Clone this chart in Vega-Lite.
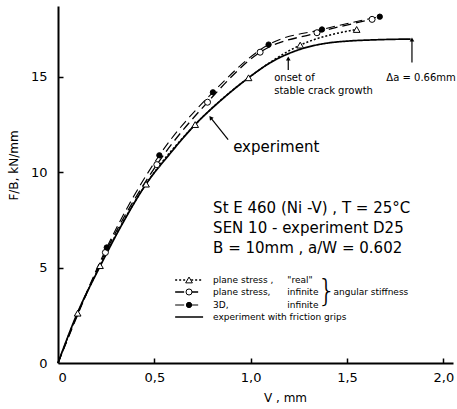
{
  "$schema": "https://vega.github.io/schema/vega-lite/v6.json",
  "width": 395,
  "height": 357,
  "autosize": {"type": "none"},
  "padding": {"left": 58, "top": 6, "right": 4, "bottom": 46},
  "background": "white",
  "config": {
    "view": {"stroke": null},
    "font": "DejaVu Sans",
    "axis": {
      "grid": false,
      "domainColor": "black",
      "domainWidth": 2,
      "tickColor": "black",
      "tickWidth": 1.5,
      "labelColor": "black",
      "labelFont": "DejaVu Sans",
      "labelFontSize": 13,
      "titleColor": "black",
      "titleFont": "DejaVu Sans",
      "titleFontSize": 12,
      "titleFontWeight": "normal"
    }
  },
  "resolve": {"axis": {"x": "independent", "y": "independent"}},
  "datasets": {
    "curves": [
      {"series": "experiment", "v": 0, "f": 0},
      {"series": "experiment", "v": 0.1, "f": 2.6},
      {"series": "experiment", "v": 0.22, "f": 5.1},
      {"series": "experiment", "v": 0.34, "f": 7.4},
      {"series": "experiment", "v": 0.457, "f": 9.37},
      {"series": "experiment", "v": 0.58, "f": 10.95},
      {"series": "experiment", "v": 0.712, "f": 12.49},
      {"series": "experiment", "v": 0.85, "f": 13.8},
      {"series": "experiment", "v": 0.989, "f": 14.94},
      {"series": "experiment", "v": 1.1, "f": 15.72},
      {"series": "experiment", "v": 1.2, "f": 16.22},
      {"series": "experiment", "v": 1.3, "f": 16.56},
      {"series": "experiment", "v": 1.4, "f": 16.76},
      {"series": "experiment", "v": 1.5, "f": 16.86},
      {"series": "experiment", "v": 1.65, "f": 16.93},
      {"series": "experiment", "v": 1.83, "f": 16.97},
      {"series": "real", "v": 0, "f": 0},
      {"series": "real", "v": 0.102, "f": 2.61},
      {"series": "real", "v": 0.218, "f": 5.1},
      {"series": "real", "v": 0.457, "f": 9.37},
      {"series": "real", "v": 0.712, "f": 12.49},
      {"series": "real", "v": 0.989, "f": 14.94},
      {"series": "real", "v": 1.257, "f": 16.65},
      {"series": "real", "v": 1.55, "f": 17.47},
      {"series": "infinite", "v": 0, "f": 0},
      {"series": "infinite", "v": 0.246, "f": 5.79},
      {"series": "infinite", "v": 0.513, "f": 10.39},
      {"series": "infinite", "v": 0.776, "f": 13.66},
      {"series": "infinite", "v": 1.049, "f": 16.28},
      {"series": "infinite", "v": 1.344, "f": 17.3},
      {"series": "infinite", "v": 1.63, "f": 18.0},
      {"series": "3D", "v": 0, "f": 0},
      {"series": "3D", "v": 0.253, "f": 6.05},
      {"series": "3D", "v": 0.526, "f": 10.88},
      {"series": "3D", "v": 0.804, "f": 14.18},
      {"series": "3D", "v": 1.093, "f": 16.68},
      {"series": "3D", "v": 1.37, "f": 17.47},
      {"series": "3D", "v": 1.67, "f": 18.14}
    ],
    "markers": [
      {"series": "real", "v": 0.102, "f": 2.61},
      {"series": "real", "v": 0.218, "f": 5.1},
      {"series": "real", "v": 0.457, "f": 9.37},
      {"series": "real", "v": 0.712, "f": 12.49},
      {"series": "real", "v": 0.989, "f": 14.94},
      {"series": "real", "v": 1.257, "f": 16.65},
      {"series": "real", "v": 1.55, "f": 17.47},
      {"series": "infinite", "v": 0.246, "f": 5.79},
      {"series": "infinite", "v": 0.513, "f": 10.39},
      {"series": "infinite", "v": 0.776, "f": 13.66},
      {"series": "infinite", "v": 1.049, "f": 16.28},
      {"series": "infinite", "v": 1.344, "f": 17.3},
      {"series": "infinite", "v": 1.63, "f": 18.0},
      {"series": "3D", "v": 0.253, "f": 6.05},
      {"series": "3D", "v": 0.526, "f": 10.88},
      {"series": "3D", "v": 0.804, "f": 14.18},
      {"series": "3D", "v": 1.093, "f": 16.68},
      {"series": "3D", "v": 1.37, "f": 17.47},
      {"series": "3D", "v": 1.67, "f": 18.14},
      {"series": "real", "v": 0.68, "f": 4.35},
      {"series": "infinite", "v": 0.68, "f": 3.72},
      {"series": "3D", "v": 0.68, "f": 3.04}
    ],
    "legendlines": [
      {"series": "real", "v": 0.608, "v2": 0.753, "f": 4.35},
      {"series": "infinite", "v": 0.608, "v2": 0.753, "f": 3.72},
      {"series": "3D", "v": 0.608, "v2": 0.753, "f": 3.04},
      {"series": "experiment", "v": 0.608, "v2": 0.753, "f": 2.41}
    ],
    "texts": [
      {"group": "big", "v": 0.805, "f": 8.13, "text": "St E 460 (Ni -V) ,  T = 25°C"},
      {"group": "big", "v": 0.805, "f": 7.08, "text": "SEN 10 - experiment  D25"},
      {"group": "big", "v": 0.805, "f": 6.03, "text": "B = 10mm ,  a/W = 0.602"},
      {"group": "big", "v": 0.909, "f": 11.33, "text": "experiment"},
      {"group": "small", "v": 1.122, "f": 14.95, "text": "onset of"},
      {"group": "small", "v": 1.122, "f": 14.27, "text": "stable crack growth"},
      {"group": "small", "v": 1.704, "f": 14.95, "text": "Δa = 0.66mm"},
      {"group": "legend", "v": 0.805, "f": 4.35, "text": "plane stress ,"},
      {"group": "legend", "v": 0.805, "f": 3.72, "text": "plane stress,"},
      {"group": "legend", "v": 0.805, "f": 3.04, "text": "3D,"},
      {"group": "legend", "v": 0.805, "f": 2.41, "text": "experiment with friction grips"},
      {"group": "legend", "v": 1.19, "f": 4.35, "text": "\"real\""},
      {"group": "legend", "v": 1.19, "f": 3.72, "text": "infinite"},
      {"group": "legend", "v": 1.19, "f": 3.04, "text": "infinite"},
      {"group": "legend", "v": 1.43, "f": 3.72, "text": "angular stiffness"},
      {"group": "brace", "v": 1.345, "f": 3.70, "text": "}"}
    ],
    "arrows": [
      {"v": 1.195, "f": 15.35, "v2": 1.195, "f2": 15.95, "dir": 0},
      {"v": 1.837, "f": 15.74, "v2": 1.837, "f2": 16.95, "dir": 0},
      {"v": 0.883, "f": 11.7, "v2": 0.792, "f2": 12.85, "dir": 322}
    ]
  },
  "layer": [
    {
      "data": {"name": "curves"},
      "mark": {"type": "line", "interpolate": "monotone", "color": "black"},
      "encoding": {
        "x": {"field": "v", "type": "quantitative", "scale": {"domain": [0, 2.05], "nice": false},
          "axis": {"orient": "bottom", "values": [0, 0.5, 1, 1.5, 2], "ticks": false, "labelExpr": "datum.value == 0 ? '0' : replace(format(datum.value, '.1f'), '.', ',')", "title": "V ,  mm", "titleX": 227, "titleY": 34, "titleBaseline": "middle", "titleAnchor": null, "labelPadding": 8}},
        "y": {"field": "f", "type": "quantitative", "scale": {"domain": [0, 18.7], "nice": false},
          "axis": {"orient": "left", "values": [0, 5, 10, 15], "ticks": false, "title": "F/B,  kN/mm", "titleX": -38, "titleY": 159, "labelPadding": 11}},
        "detail": {"field": "series"},
        "strokeDash": {"field": "series", "type": "nominal", "legend": null,
          "scale": {"domain": ["experiment", "real", "infinite", "3D"], "range": [[1, 0], [2, 2], [9, 5], [9, 5]]}},
        "strokeWidth": {"field": "series", "type": "nominal", "legend": null,
          "scale": {"domain": ["experiment", "real", "infinite", "3D"], "range": [1.7, 1.1, 1.3, 1.3]}}
      }
    },
    {
      "data": {"name": "legendlines"},
      "mark": {"type": "rule", "color": "black"},
      "encoding": {
        "x": {"field": "v", "type": "quantitative",
          "axis": {"orient": "bottom", "offset": -5, "domain": false, "labels": false, "title": null, "tickSize": 5, "values": [0.5, 1, 1.5, 2]}},
        "x2": {"field": "v2"},
        "y": {"field": "f", "type": "quantitative",
          "axis": {"orient": "left", "offset": -5, "domain": false, "labels": false, "title": null, "tickSize": 5, "values": [5, 10, 15]}},
        "strokeDash": {"field": "series", "type": "nominal", "legend": null,
          "scale": {"domain": ["experiment", "real", "infinite", "3D"], "range": [[1, 0], [2, 2], [9, 5], [9, 5]]}},
        "strokeWidth": {"field": "series", "type": "nominal", "legend": null,
          "scale": {"domain": ["experiment", "real", "infinite", "3D"], "range": [1.7, 1.1, 1.3, 1.3]}}
      }
    },
    {
      "data": {"name": "markers"},
      "mark": {"type": "point", "filled": true, "stroke": "black", "strokeWidth": 1, "opacity": 1},
      "encoding": {
        "x": {"field": "v", "type": "quantitative", "axis": null},
        "y": {"field": "f", "type": "quantitative", "axis": null},
        "shape": {"field": "series", "type": "nominal", "legend": null,
          "scale": {"domain": ["real", "infinite", "3D"], "range": ["triangle-up", "circle", "circle"]}},
        "fill": {"field": "series", "type": "nominal", "legend": null,
          "scale": {"domain": ["real", "infinite", "3D"], "range": ["white", "white", "black"]}},
        "size": {"field": "series", "type": "nominal", "legend": null,
          "scale": {"domain": ["real", "infinite", "3D"], "range": [45, 28, 30]}}
      }
    },
    {
      "data": {"name": "arrows"},
      "mark": {"type": "rule", "color": "black", "strokeWidth": 1.2},
      "encoding": {
        "x": {"field": "v", "type": "quantitative", "axis": null},
        "y": {"field": "f", "type": "quantitative", "axis": null},
        "x2": {"field": "v2"},
        "y2": {"field": "f2"}
      }
    },
    {
      "data": {"name": "arrows"},
      "mark": {"type": "point", "shape": "triangle-up", "filled": true, "color": "black", "size": 22, "opacity": 1},
      "encoding": {
        "x": {"field": "v2", "type": "quantitative", "axis": null},
        "y": {"field": "f2", "type": "quantitative", "axis": null},
        "angle": {"field": "dir", "type": "quantitative", "scale": null}
      }
    },
    {
      "data": {"name": "texts"},
      "transform": [{"filter": "datum.group == 'big'"}],
      "mark": {"type": "text", "align": "left", "baseline": "middle", "fontSize": 15, "color": "black"},
      "encoding": {
        "x": {"field": "v", "type": "quantitative", "axis": null},
        "y": {"field": "f", "type": "quantitative", "axis": null},
        "text": {"field": "text"}
      }
    },
    {
      "data": {"name": "texts"},
      "transform": [{"filter": "datum.group == 'small'"}],
      "mark": {"type": "text", "align": "left", "baseline": "middle", "fontSize": 10, "color": "black"},
      "encoding": {
        "x": {"field": "v", "type": "quantitative", "axis": null},
        "y": {"field": "f", "type": "quantitative", "axis": null},
        "text": {"field": "text"}
      }
    },
    {
      "data": {"name": "texts"},
      "transform": [{"filter": "datum.group == 'legend'"}],
      "mark": {"type": "text", "align": "left", "baseline": "middle", "fontSize": 9, "color": "black"},
      "encoding": {
        "x": {"field": "v", "type": "quantitative", "axis": null},
        "y": {"field": "f", "type": "quantitative", "axis": null},
        "text": {"field": "text"}
      }
    },
    {
      "data": {"name": "texts"},
      "transform": [{"filter": "datum.group == 'brace'"}],
      "mark": {"type": "text", "align": "left", "baseline": "middle", "fontSize": 30, "fontWeight": 200, "color": "black"},
      "encoding": {
        "x": {"field": "v", "type": "quantitative", "axis": null},
        "y": {"field": "f", "type": "quantitative", "axis": null},
        "text": {"field": "text"}
      }
    }
  ]
}
